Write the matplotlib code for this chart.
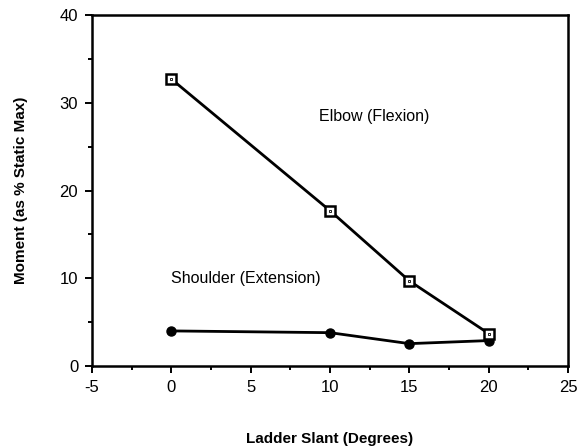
import matplotlib
matplotlib.use("Agg")
import matplotlib.pyplot as plt
from matplotlib.ticker import MultipleLocator

plt.rcParams["font.family"] = ["Liberation Sans", "DejaVu Sans"]
plt.rcParams["axes.unicode_minus"] = False

slant = [0, 10, 15, 20]
elbow = [32.7, 17.7, 9.7, 3.7]
shoulder = [4.0, 3.8, 2.55, 2.9]

fig = plt.figure(figsize=(5.79, 4.48), dpi=100)
ax = fig.add_axes([0.159, 0.183, 0.822, 0.7835])

ax.plot(slant, shoulder, color="black", lw=2.0, marker="o", ms=6.5,
        mfc="black", mec="black", zorder=3)
ax.plot(slant, elbow, color="black", lw=2.0, marker="s", ms=6.5,
        mfc="white", mec="black", mew=1.8, zorder=4)
ax.plot(slant, elbow, ls="none", marker="s", ms=1.5, mfc="none",
        mec="black", mew=0.6, zorder=5)

ax.text(9.3, 28.4, "Elbow (Flexion)", fontsize=11.5, va="center", ha="left")
ax.text(0.0, 10.0, "Shoulder (Extension)", fontsize=11.5, va="center", ha="left")

ax.set_xlim(-5, 25)
ax.set_ylim(0, 40)
ax.xaxis.set_major_locator(MultipleLocator(5))
ax.xaxis.set_minor_locator(MultipleLocator(2.5))
ax.yaxis.set_major_locator(MultipleLocator(10))
ax.yaxis.set_minor_locator(MultipleLocator(5))

for s in ax.spines.values():
    s.set_linewidth(1.8)

ax.tick_params(which="both", direction="out", width=1.4, labelsize=12)
ax.tick_params(which="major", length=5, pad=5)
ax.tick_params(which="minor", length=3)

ax.set_xlabel("Ladder Slant (Degrees)", fontsize=11, fontweight="bold", labelpad=27)
ax.set_ylabel("Moment (as % Static Max)", fontsize=11, fontweight="bold", labelpad=23)

fig.savefig("out.png", dpi=100, facecolor="white")
